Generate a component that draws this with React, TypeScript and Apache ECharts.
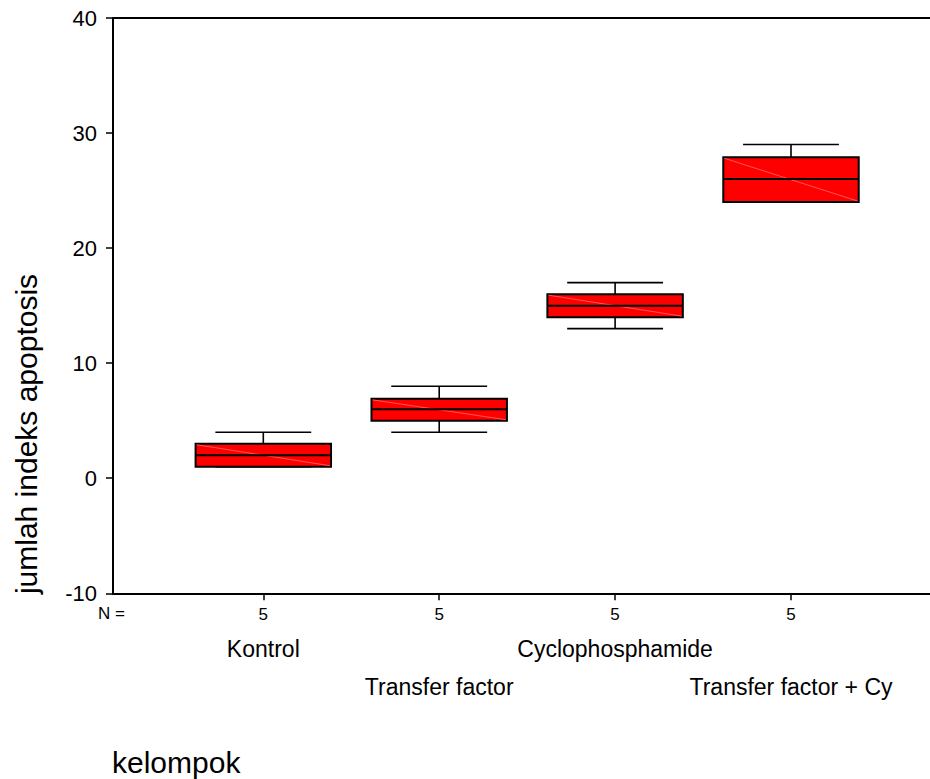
import React, { useEffect, useRef } from "react";
import * as echarts from "echarts";

const categories = ["Kontrol", "Transfer factor", "Cyclophosphamide", "Transfer factor + Cy"];
const nValues = [5, 5, 5, 5];
const minValues = [1, 4, 13, 24];
const q1Values = [1, 5, 14, 24];
const medianValues = [2, 6, 15, 26];
const q3Values = [3, 6.9, 16, 27.9];
const maxValues = [4, 8, 17, 29];
const yTicks = [-10, 0, 10, 20, 30, 40];

const FONT = "'Liberation Sans', Arial, Helvetica, sans-serif";

export default function App() {
  const ref = useRef<HTMLDivElement>(null);

  useEffect(() => {
    document.body.style.margin = "0";
    if (!ref.current) return;
    const chart = echarts.init(ref.current, null, { renderer: "svg" });

    const data = categories.map((_, i) => [
      i + 1,
      minValues[i],
      q1Values[i],
      medianValues[i],
      q3Values[i],
      maxValues[i],
    ]);

    const positions = categories.map((_, i) => i + 1);

    const renderItem = (params: any, api: any) => {
      const x = api.value(0);
      const pMin = api.coord([x, api.value(1)]);
      const pQ1 = api.coord([x, api.value(2)]);
      const pMed = api.coord([x, api.value(3)]);
      const pQ3 = api.coord([x, api.value(4)]);
      const pMax = api.coord([x, api.value(5)]);
      const boxW = api.size([0.77, 0])[0];
      const capW = api.size([0.545, 0])[0];
      const cx = pMed[0];
      const left = cx - boxW / 2;
      const right = cx + boxW / 2;
      const whiskerStyle = { stroke: "#000", lineWidth: 1.6 };
      return {
        type: "group",
        children: [
          {
            type: "line",
            shape: { x1: cx, y1: pQ3[1], x2: cx, y2: pMax[1] },
            style: whiskerStyle,
          },
          {
            type: "line",
            shape: { x1: cx - capW / 2, y1: pMax[1], x2: cx + capW / 2, y2: pMax[1] },
            style: whiskerStyle,
          },
          {
            type: "line",
            shape: { x1: cx, y1: pQ1[1], x2: cx, y2: pMin[1] },
            style: whiskerStyle,
          },
          {
            type: "line",
            shape: { x1: cx - capW / 2, y1: pMin[1], x2: cx + capW / 2, y2: pMin[1] },
            style: whiskerStyle,
          },
          {
            type: "rect",
            shape: { x: left, y: pQ3[1], width: boxW, height: pQ1[1] - pQ3[1] },
            style: { fill: "#ff0000", stroke: "#000", lineWidth: 2 },
          },
          {
            type: "line",
            shape: { x1: left + 1, y1: pQ3[1] + 1, x2: right - 1, y2: pQ1[1] - 1 },
            style: { stroke: "#ff6b6b", lineWidth: 0.8 },
          },
          {
            type: "line",
            shape: { x1: left, y1: pMed[1], x2: right, y2: pMed[1] },
            style: { stroke: "#000", lineWidth: 2 },
          },
        ],
      };
    };

    const baseX = {
      type: "value",
      gridIndex: 0,
      min: 0.1455,
      max: 4.7902,
      position: "bottom",
      splitLine: { show: false },
    };

    chart.setOption({
      animation: false,
      backgroundColor: "#fff",
      grid: {
        left: 113,
        right: 0,
        top: 18,
        bottom: 185.7,
      },
      xAxis: [
        {
          ...baseX,
          axisLine: { show: true, onZero: false, lineStyle: { color: "#000", width: 2 } },
          axisTick: {
            show: true,
            customValues: positions,
            length: 7,
            lineStyle: { color: "#000", width: 1.5 },
          },
          axisLabel: {
            show: true,
            customValues: positions,
            formatter: (v: number) => String(nValues[Math.round(v) - 1]),
            fontSize: 17,
            fontFamily: FONT,
            color: "#000",
            verticalAlign: "middle",
            margin: 21,
          },
        },
        {
          ...baseX,
          axisLine: { show: false, onZero: false },
          axisTick: { show: false },
          axisLabel: {
            show: true,
            customValues: [positions[0], positions[2]],
            formatter: (v: number) => categories[Math.round(v) - 1],
            fontSize: 23,
            fontFamily: FONT,
            color: "#000",
            verticalAlign: "middle",
            margin: 56,
          },
        },
        {
          ...baseX,
          axisLine: { show: false, onZero: false },
          axisTick: { show: false },
          axisLabel: {
            show: true,
            customValues: [positions[1], positions[3]],
            formatter: (v: number) => categories[Math.round(v) - 1],
            fontSize: 23,
            fontFamily: FONT,
            color: "#000",
            verticalAlign: "middle",
            margin: 94,
          },
        },
        {
          ...baseX,
          position: "top",
          axisLine: { show: true, onZero: false, lineStyle: { color: "#000", width: 2 } },
          axisTick: { show: false },
          axisLabel: { show: false },
        },
      ],
      yAxis: {
        type: "value",
        min: yTicks[0],
        max: yTicks[yTicks.length - 1],
        interval: 10,
        splitLine: { show: false },
        axisLine: { show: true, onZero: false, lineStyle: { color: "#000", width: 2 } },
        axisTick: { show: true, length: 7, lineStyle: { color: "#000", width: 1.5 } },
        axisLabel: {
          fontSize: 22,
          fontFamily: FONT,
          color: "#000",
          margin: 16,
        },
      },
      graphic: [
        {
          type: "text",
          left: 98,
          top: 605,
          style: { text: "N =", fontSize: 17, fontFamily: FONT, fill: "#000" },
        },
        {
          type: "text",
          x: 26,
          y: 434,
          rotation: Math.PI / 2,
          style: {
            text: "jumlah indeks apoptosis",
            fontSize: 30,
            fontFamily: FONT,
            fill: "#000",
            align: "center",
            verticalAlign: "middle",
          },
        },
        {
          type: "text",
          x: 112,
          y: 762,
          style: {
            text: "kelompok",
            fontSize: 30,
            fontFamily: FONT,
            fill: "#000",
            align: "left",
            verticalAlign: "middle",
          },
        },
      ],
      series: [
        {
          type: "custom",
          xAxisIndex: 0,
          yAxisIndex: 0,
          renderItem,
          encode: { x: 0, y: [1, 2, 3, 4, 5] },
          data,
          clip: false,
        },
      ],
    });

    return () => chart.dispose();
  }, []);

  return <div ref={ref} style={{ width: 930, height: 779 }} />;
}
